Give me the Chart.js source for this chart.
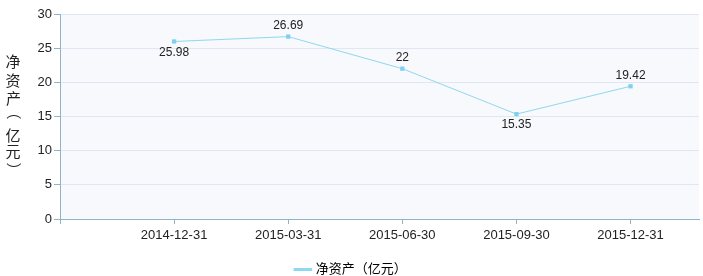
<!DOCTYPE html>
<html>
<head>
<meta charset="utf-8">
<script src="https://cdn.jsdelivr.net/npm/chart.js@4/dist/chart.umd.min.js"></script>
<style>
  html, body { margin: 0; padding: 0; background: #fff; }
  #wrap { width: 703px; height: 276px; }
</style>
</head>
<body>
<div id="wrap"><canvas id="chart"></canvas></div>
<script>
const dates   = ['2014-12-31', '2015-03-31', '2015-06-30', '2015-09-30', '2015-12-31'];
const netAssets = [25.98, 26.69, 22, 15.35, 19.42];
const seriesName = '净资产（亿元）';
const yTitle = '净资产（亿元）';

const FONT = '"Liberation Sans", Arial, "Noto Sans CJK SC", sans-serif';
const LINE = '#8fd8ef';
const POINT = '#7fd0f0';
const AXIS = '#92b2c8';
const GRID = '#dfe8f2';

// plot background + point labels + vertical y title
const decor = {
  id: 'decor',
  beforeDraw(chart) {
    const { ctx, chartArea: a } = chart;
    ctx.save();
    ctx.fillStyle = '#f7f9fc';
    ctx.fillRect(a.left, a.top, a.right - a.left, a.bottom - a.top);
    ctx.restore();
  },
  afterDatasetsDraw(chart) {
    const { ctx } = chart;
    const meta = chart.getDatasetMeta(0);
    ctx.save();
    ctx.font = '12px ' + FONT;
    ctx.fillStyle = '#222';
    ctx.textAlign = 'center';
    meta.data.forEach((pt, i) => {
      const v = netAssets[i];
      const next = netAssets[i + 1];
      const below = next !== undefined && v < next;
      ctx.textBaseline = below ? 'top' : 'bottom';
      ctx.fillText(String(v), pt.x, below ? pt.y + 5 : pt.y - 5);
    });
    // y axis title, stacked upright, brackets turned like vertical text
    ctx.font = '15px "Noto Sans CJK SC", sans-serif';
    ctx.fillStyle = '#222';
    ctx.textAlign = 'left';
    ctx.textBaseline = 'alphabetic';
    const centers = [62, 80, 98, 117, 135, 152, 165];
    Array.from(yTitle).forEach((c, i) => {
      const m = ctx.measureText(c);
      const cx = (m.actualBoundingBoxRight - m.actualBoundingBoxLeft) / 2;
      const cy = (m.actualBoundingBoxDescent - m.actualBoundingBoxAscent) / 2;
      ctx.save();
      ctx.translate(13, centers[i]);
      if (c === '（' || c === '）') ctx.rotate(Math.PI / 2);
      ctx.fillText(c, -cx, -cy);
      ctx.restore();
    });
    ctx.restore();
  }
};

new Chart(document.getElementById('chart'), {
  type: 'line',
  data: {
    datasets: [{
      label: seriesName,
      data: netAssets.map((v, i) => ({ x: i, y: v })),
      borderColor: LINE,
      backgroundColor: POINT,
      borderWidth: 1,
      pointStyle: 'rect',
      pointRadius: 3,
      pointBorderWidth: 0,
      tension: 0
    }]
  },
  options: {
    responsive: true,
    maintainAspectRatio: false,
    animation: false,
    layout: { padding: { top: 14, right: 0, left: 0, bottom: -10 } },
    plugins: {
      legend: {
        position: 'bottom',
        labels: {
          usePointStyle: true,
          font: { family: FONT, size: 13 },
          color: '#222',
          padding: 2,
          generateLabels: chart => [{
            text: seriesName,
            fillStyle: POINT,
            strokeStyle: LINE,
            lineWidth: 3,
            pointStyle: 'line',
            datasetIndex: 0
          }]
        }
      },
      tooltip: { enabled: false }
    },
    scales: {
      x: {
        type: 'linear',
        min: -1,
        max: 4.6,
        afterBuildTicks: s => { s.ticks = [-1, 0, 1, 2, 3, 4].map(v => ({ value: v })); },
        afterFit: s => { s.height = 42; },
        border: { color: AXIS },
        grid: { drawOnChartArea: false, drawTicks: true, tickLength: 5, color: AXIS, display: true },
        ticks: {
          color: '#222',
          font: { family: FONT, size: 13 },
          padding: 4,
          maxRotation: 0,
          callback: v => dates[v] || ''
        }
      },
      y: {
        min: 0,
        max: 30,
        afterFit: s => { s.width = 60; },
        border: { color: AXIS },
        grid: { color: GRID, tickColor: AXIS, tickLength: 6 },
        ticks: {
          stepSize: 5,
          color: '#222',
          font: { family: FONT, size: 13 },
          padding: 2
        }
      }
    }
  },
  plugins: [decor]
});
</script>
</body>
</html>
